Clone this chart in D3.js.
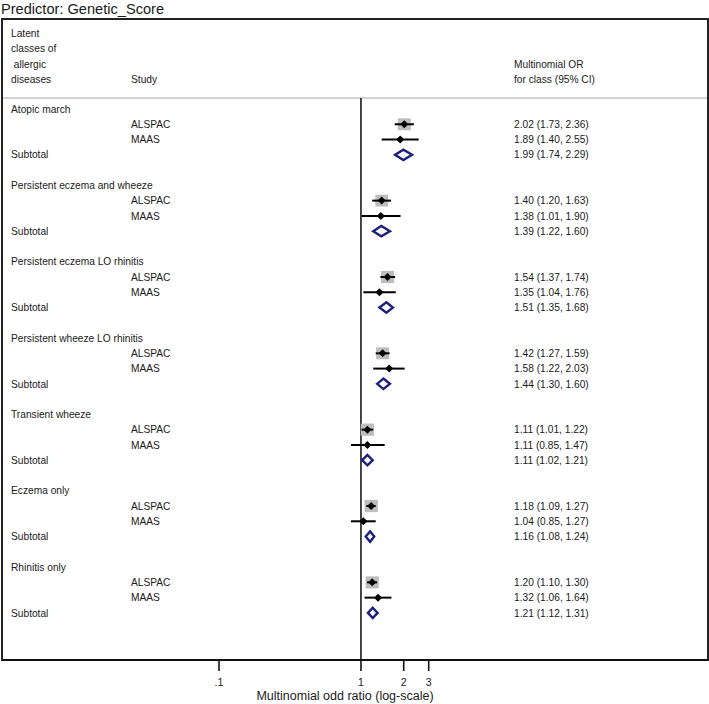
<!DOCTYPE html>
<html>
<head>
<meta charset="utf-8">
<script src="https://cdn.jsdelivr.net/npm/d3@7"></script>
<style>
  body { margin: 0; background: #fff; }
  svg { display: block; font-family: "Liberation Sans", Arial, sans-serif; }
</style>
</head>
<body>
<svg id="chart" width="709" height="704"></svg>
<script>
// ---------- data ----------
const classes = [
  "Atopic march",
  "Persistent eczema and wheeze",
  "Persistent eczema LO rhinitis",
  "Persistent wheeze LO rhinitis",
  "Transient wheeze",
  "Eczema only",
  "Rhinitis only"
];
const studies = ["ALSPAC", "MAAS"];

const alspacOR = [2.02, 1.40, 1.54, 1.42, 1.11, 1.18, 1.20];
const alspacLo = [1.73, 1.20, 1.37, 1.27, 1.01, 1.09, 1.10];
const alspacHi = [2.36, 1.63, 1.74, 1.59, 1.22, 1.27, 1.30];

const maasOR = [1.89, 1.38, 1.35, 1.58, 1.11, 1.04, 1.32];
const maasLo = [1.40, 1.01, 1.04, 1.22, 0.85, 0.85, 1.06];
const maasHi = [2.55, 1.90, 1.76, 2.03, 1.47, 1.27, 1.64];

const subOR = [1.99, 1.39, 1.51, 1.44, 1.11, 1.16, 1.21];
const subLo = [1.74, 1.22, 1.35, 1.30, 1.02, 1.08, 1.12];
const subHi = [2.29, 1.60, 1.68, 1.60, 1.21, 1.24, 1.31];

// estimated study weights (%) – drive box size
const alspacW = [88, 86, 90, 88, 92, 93, 90];
const maasW   = [12, 14, 10, 12, 8, 7, 10];

const xTicks = [0.1, 1, 2, 3];
const xTickLabels = [".1", "1", "2", "3"];

const title = "Predictor: Genetic_Score";
const headLeft = ["Latent", "classes of", " allergic", "diseases"];
const headStudy = "Study";
const headRight = ["Multinomial OR", "for class (95% CI)"];
const xTitle = "Multinomial odd ratio (log-scale)";

// ---------- rows ----------
const fmt = d3.format(".2f");
const rows = [];
classes.forEach((c, g) => {
  rows.push({type: "header", label: c});
  rows.push({type: "study", label: studies[0], or: alspacOR[g], lo: alspacLo[g], hi: alspacHi[g], w: alspacW[g]});
  rows.push({type: "study", label: studies[1], or: maasOR[g], lo: maasLo[g], hi: maasHi[g], w: maasW[g]});
  rows.push({type: "sub", label: "Subtotal", or: subOR[g], lo: subLo[g], hi: subHi[g]});
  if (g < classes.length - 1) rows.push({type: "blank"});
});
rows.forEach((r, i) => r.i = i);

// ---------- layout ----------
const svg = d3.select("#chart");
const box = {x: 2, y: 19, w: 706, h: 641};
const sepY = 98;
const axisY = box.y + box.h;

const x = d3.scaleLog().domain([0.1, 3]).range([219, 428.7]);
const y = d3.scaleLinear().domain([0, rows.length - 1]).range([109, 109 + (rows.length - 1) * 15.27]);
const size = d3.scaleSqrt().domain([0, 100]).range([0, 13.8]);

const fs = 10.2;
const txt = "#1a1a1a";

// title
svg.append("text").attr("x", 1).attr("y", 14).attr("font-size", 14.6).attr("fill", txt).text(title);

// box
svg.append("rect").attr("x", box.x).attr("y", box.y).attr("width", box.w).attr("height", box.h)
  .attr("fill", "none").attr("stroke", "#222").attr("stroke-width", 2);

// header separator
svg.append("line").attr("x1", box.x + 1).attr("x2", box.x + box.w - 1).attr("y1", sepY).attr("y2", sepY)
  .attr("stroke", "#c4c4c4").attr("stroke-width", 1.6);

// header text
svg.append("g").selectAll("text").data(headLeft).join("text")
  .attr("x", 11).attr("y", (d, i) => 37 + i * 15.3)
  .attr("font-size", fs).attr("fill", txt).attr("xml:space", "preserve").text(d => d);
svg.append("text").attr("x", 131).attr("y", 37 + 3 * 15.3).attr("font-size", fs).attr("fill", txt).text(headStudy);
svg.append("g").selectAll("text").data(headRight).join("text")
  .attr("x", 514).attr("y", (d, i) => 37 + (i + 2) * 15.3)
  .attr("font-size", fs).attr("fill", txt).text(d => d);

// null line
svg.append("line").attr("x1", x(1)).attr("x2", x(1)).attr("y1", sepY).attr("y2", axisY)
  .attr("stroke", "#333").attr("stroke-width", 1.8);

// row labels
const lab = svg.append("g").attr("font-size", fs).attr("fill", txt);
lab.selectAll("text.lbl").data(rows.filter(r => r.type !== "blank")).join("text")
  .attr("class", "lbl")
  .attr("x", r => r.type === "study" ? 131 : 11)
  .attr("y", r => y(r.i)).attr("dy", "0.36em")
  .text(r => r.label);
lab.selectAll("text.est").data(rows.filter(r => r.or !== undefined)).join("text")
  .attr("class", "est")
  .attr("x", 514).attr("y", r => y(r.i)).attr("dy", "0.36em")
  .text(r => `${fmt(r.or)} (${fmt(r.lo)}, ${fmt(r.hi)})`);

// study marks
const st = rows.filter(r => r.type === "study");
const marks = svg.append("g");
marks.selectAll("rect.wbox").data(st).join("rect").attr("class", "wbox")
  .attr("x", r => x(r.or) - size(r.w) / 2).attr("y", r => y(r.i) - size(r.w) / 2 * 0.92)
  .attr("width", r => size(r.w)).attr("height", r => size(r.w) * 0.92)
  .attr("fill", "#bdbdbd");
marks.selectAll("line.ci").data(st).join("line").attr("class", "ci")
  .attr("x1", r => x(r.lo)).attr("x2", r => x(r.hi))
  .attr("y1", r => y(r.i)).attr("y2", r => y(r.i))
  .attr("stroke", "#000").attr("stroke-width", 2);
marks.selectAll("path.pt").data(st).join("path").attr("class", "pt")
  .attr("d", r => {
    const cx = x(r.or), cy = y(r.i), h = 4;
    return `M${cx - h},${cy}L${cx},${cy - h}L${cx + h},${cy}L${cx},${cy + h}Z`;
  })
  .attr("fill", "#000");

// subtotal diamonds
const sb = rows.filter(r => r.type === "sub");
marks.selectAll("path.dia").data(sb).join("path").attr("class", "dia")
  .attr("d", r => {
    const cy = y(r.i), h = 5.2;
    return `M${x(r.lo)},${cy}L${x(r.or)},${cy - h}L${x(r.hi)},${cy}L${x(r.or)},${cy + h}Z`;
  })
  .attr("fill", "none").attr("stroke", "#1c1f7d").attr("stroke-width", 2.4);

// x axis
const ax = svg.append("g").attr("transform", `translate(0,${axisY})`);
ax.append("line").attr("x1", box.x).attr("x2", box.x + box.w).attr("stroke", "#111").attr("stroke-width", 2);
ax.selectAll("line.tk").data(xTicks).join("line").attr("class", "tk")
  .attr("x1", d => x(d)).attr("x2", d => x(d)).attr("y1", 0).attr("y2", 11)
  .attr("stroke", "#111").attr("stroke-width", 1.6);
ax.selectAll("text.tl").data(xTicks).join("text").attr("class", "tl")
  .attr("x", d => x(d)).attr("y", 26).attr("text-anchor", "middle")
  .attr("font-size", 10.5).attr("fill", txt).text((d, i) => xTickLabels[i]);
svg.append("text").attr("x", 345).attr("y", 700).attr("text-anchor", "middle")
  .attr("font-size", 12.5).attr("fill", txt).text(xTitle);
</script>
</body>
</html>
